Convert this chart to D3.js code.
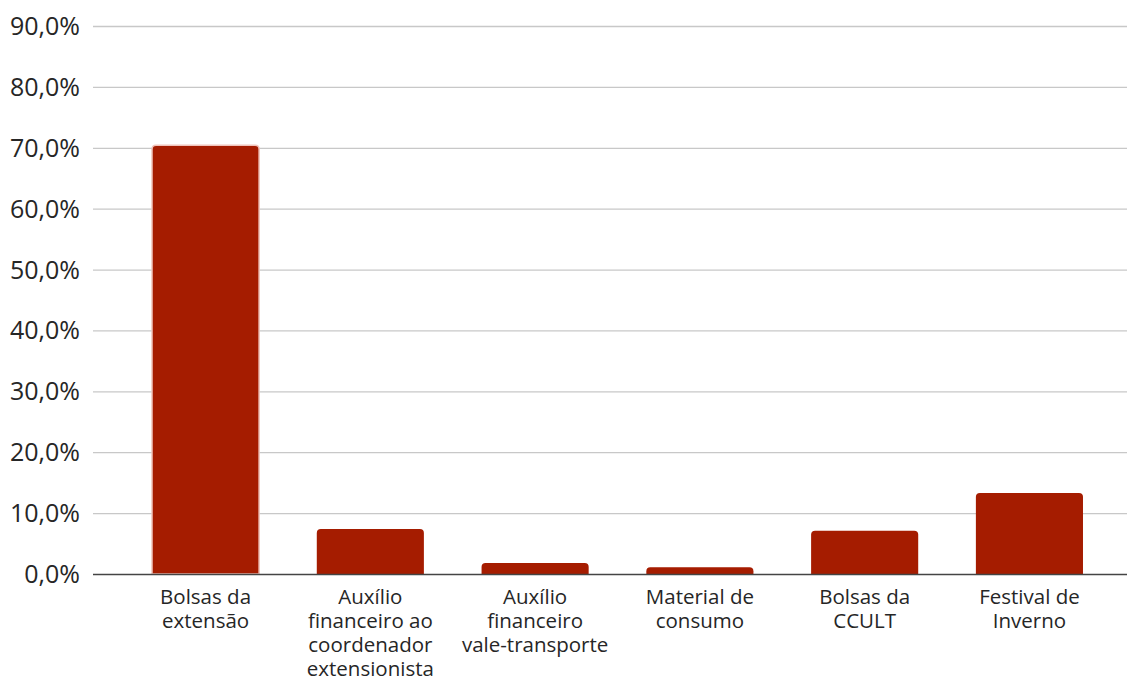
<!DOCTYPE html>
<html>
<head>
<meta charset="utf-8">
<script src="https://cdn.jsdelivr.net/npm/d3@7"></script>
<style>
  body { margin: 0; background: #fff; }
  svg text { font-family: "Open Sans", sans-serif; fill: #262626; }
</style>
</head>
<body>
<div id="chart"></div>
<script>
// Data
var categories = [
  ["Bolsas da", "extensão"],
  ["Auxílio", "financeiro ao", "coordenador", "extensionista"],
  ["Auxílio", "financeiro", "vale-transporte"],
  ["Material de", "consumo"],
  ["Bolsas da", "CCULT"],
  ["Festival de", "Inverno"]
];
var values = [70.4, 7.4, 1.8, 1.1, 7.1, 13.3];
var yTicks = [0, 10, 20, 30, 40, 50, 60, 70, 80, 90];

var svgWidth = 1127, svgHeight = 678;
var gridLeft = 93, gridRight = 1127;
var plotTop = 26, plotBottom = 574;

var svg = d3.select("#chart").append("svg")
  .attr("width", svgWidth)
  .attr("height", svgHeight);

var xScale = d3.scaleBand()
  .domain(d3.range(categories.length))
  .range([124, 1111])
  .paddingInner(0.35)
  .paddingOuter(0.17);

var yScale = d3.scaleLinear()
  .domain([0, 90])
  .range([plotBottom, plotTop]);

// Gridlines
svg.append("g")
  .selectAll("line")
  .data(yTicks.filter(function(d) { return d > 0; }))
  .enter().append("line")
  .attr("x1", gridLeft)
  .attr("x2", gridRight)
  .attr("y1", function(d) { return yScale(d) + 0.5; })
  .attr("y2", function(d) { return yScale(d) + 0.5; })
  .attr("stroke", "#c8c8c8")
  .attr("stroke-width", 1.3);

// Y tick labels
svg.append("g")
  .selectAll("text")
  .data(yTicks)
  .enter().append("text")
  .attr("x", 80)
  .attr("y", function(d) { return yScale(d); })
  .attr("dy", "0.36em")
  .attr("text-anchor", "end")
  .attr("font-size", 25)
  .text(function(d) { return d.toFixed(1).replace(".", ",") + "%"; });

// Bars with rounded top corners
function barPath(x, y, w, h, r) {
  r = Math.min(r, h, w / 2);
  return "M" + x + "," + (y + h) +
    "V" + (y + r) +
    "Q" + x + "," + y + " " + (x + r) + "," + y +
    "H" + (x + w - r) +
    "Q" + (x + w) + "," + y + " " + (x + w) + "," + (y + r) +
    "V" + (y + h) + "Z";
}

svg.append("g")
  .selectAll("path")
  .data(values)
  .enter().append("path")
  .attr("d", function(d, i) {
    var y = yScale(d);
    return barPath(xScale(i), y, xScale.bandwidth(), plotBottom - y, 4);
  })
  .attr("fill", "#a51c00")
  .attr("stroke", function(d, i) { return i === 0 ? "#f0c4bc" : "none"; })
  .attr("stroke-width", 1.5);

// Baseline
svg.append("line")
  .attr("x1", gridLeft)
  .attr("x2", gridRight)
  .attr("y1", plotBottom + 0.5)
  .attr("y2", plotBottom + 0.5)
  .attr("stroke", "#444")
  .attr("stroke-width", 1.5);

// Category labels
var labels = svg.append("g")
  .selectAll("text")
  .data(categories)
  .enter().append("text")
  .attr("text-anchor", "middle")
  .attr("font-size", 20.5)
  .attr("x", function(d, i) { return xScale(i) + xScale.bandwidth() / 2; })
  .attr("y", 604);

labels.selectAll("tspan")
  .data(function(d) { return d; })
  .enter().append("tspan")
  .attr("x", function() { return d3.select(this.parentNode).attr("x"); })
  .attr("dy", function(d, j) { return j === 0 ? 0 : 24; })
  .text(function(d) { return d; });
</script>
</body>
</html>
